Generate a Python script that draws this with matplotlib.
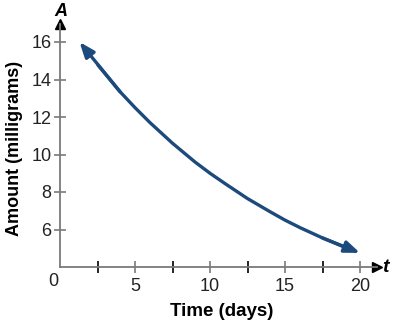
import matplotlib
matplotlib.use("Agg")
import matplotlib.pyplot as plt

plt.rcParams['font.family'] = ['Liberation Sans', 'DejaVu Sans']

# values
days = [1.3, 2.5, 4, 5, 6, 7.5, 9, 10, 11, 12.5, 14, 15, 16, 17.5, 19, 20]
amount = [16.0, 14.8, 13.35, 12.5, 11.7, 10.6, 9.6, 9.0, 8.45, 7.65, 6.95, 6.5, 6.1, 5.55, 5.05, 4.75]
y_ticks = [6, 8, 10, 12, 14, 16]
x_ticks = [5, 10, 15, 20]
x_minor = [2.5, 7.5, 12.5, 17.5]

W, H = 393, 326
fig = plt.figure(figsize=(W / 100, H / 100), dpi=100)
x0, x1 = 60, 377   # pixel extent of the t axis
y0, y1 = 267, 24   # pixel extent of the A axis
ax = fig.add_axes([x0 / W, (H - y0) / H, (x1 - x0) / W, (y0 - y1) / H])
ax.set_xlim(0, (x1 - x0) / 15)
ax.set_ylim(4, 4 + (y0 - y1) / 18.75)

axis_col = '#7a7a7a'
curve_col = '#1c4a7c'

for s in ['top', 'right']:
    ax.spines[s].set_visible(False)
for s in ['left', 'bottom']:
    ax.spines[s].set_color(axis_col)
    ax.spines[s].set_linewidth(1.3)

# arrow heads on the axes
ax.plot(1, 0, '>', color='black', ms=7, transform=ax.transAxes, clip_on=False)
ax.plot(0, 1, '^', color='black', ms=7, transform=ax.transAxes, clip_on=False)
ax.text(1.015, 0.0, 't', transform=ax.transAxes, fontsize=14, fontweight='bold',
        style='italic', va='center', ha='left')
ax.text(0.003, (y0 - 12) / (y0 - y1), 'A', transform=ax.transAxes, fontsize=13,
        fontweight='bold', style='italic', va='center', ha='center')

ax.set_xticks(x_ticks)
ax.set_xticks(x_minor, minor=True)
ax.set_yticks(y_ticks)
ax.set_xticklabels([str(v) for v in x_ticks])
ax.set_yticklabels([str(v) for v in y_ticks])
ax.tick_params(axis='both', which='major', direction='inout', length=8, width=1.2,
               color=axis_col, labelsize=13, labelcolor='#222222', pad=2)
ax.tick_params(axis='x', which='minor', direction='inout', length=8, width=1.2,
               color='black')
ax.tick_params(axis='x', which='major', pad=4)
ax.text(-0.45, 3.25, '0', fontsize=13, color='#222222', ha='center', va='center')

ax.set_xlabel('Time (days)', fontsize=13.5, fontweight='bold')
ax.set_ylabel('Amount (milligrams)', fontsize=13, fontweight='bold')
ax.xaxis.set_label_coords((222 - x0) / (x1 - x0), (y0 - 312) / (y0 - y1))
ax.yaxis.set_label_coords((15 - x0) / (x1 - x0), (y0 - 148) / (y0 - y1))
ax.xaxis.label.set_va('center')
ax.yaxis.label.set_va('center')

# curve with arrow heads at both ends
ax.plot(days[1:-1], amount[1:-1], color=curve_col, lw=2.4, solid_capstyle='butt')
ax.annotate('', xy=(days[0], amount[0]), xytext=(days[2], amount[2]),
            arrowprops=dict(arrowstyle='-|>,head_length=0.9,head_width=0.35',
                            color=curve_col, lw=2.4, shrinkA=0, shrinkB=0))
ax.annotate('', xy=(days[-1], amount[-1]), xytext=(days[-3], amount[-3]),
            arrowprops=dict(arrowstyle='-|>,head_length=0.9,head_width=0.35',
                            color=curve_col, lw=2.4, shrinkA=0, shrinkB=0))

fig.savefig('out.png', dpi=100)
